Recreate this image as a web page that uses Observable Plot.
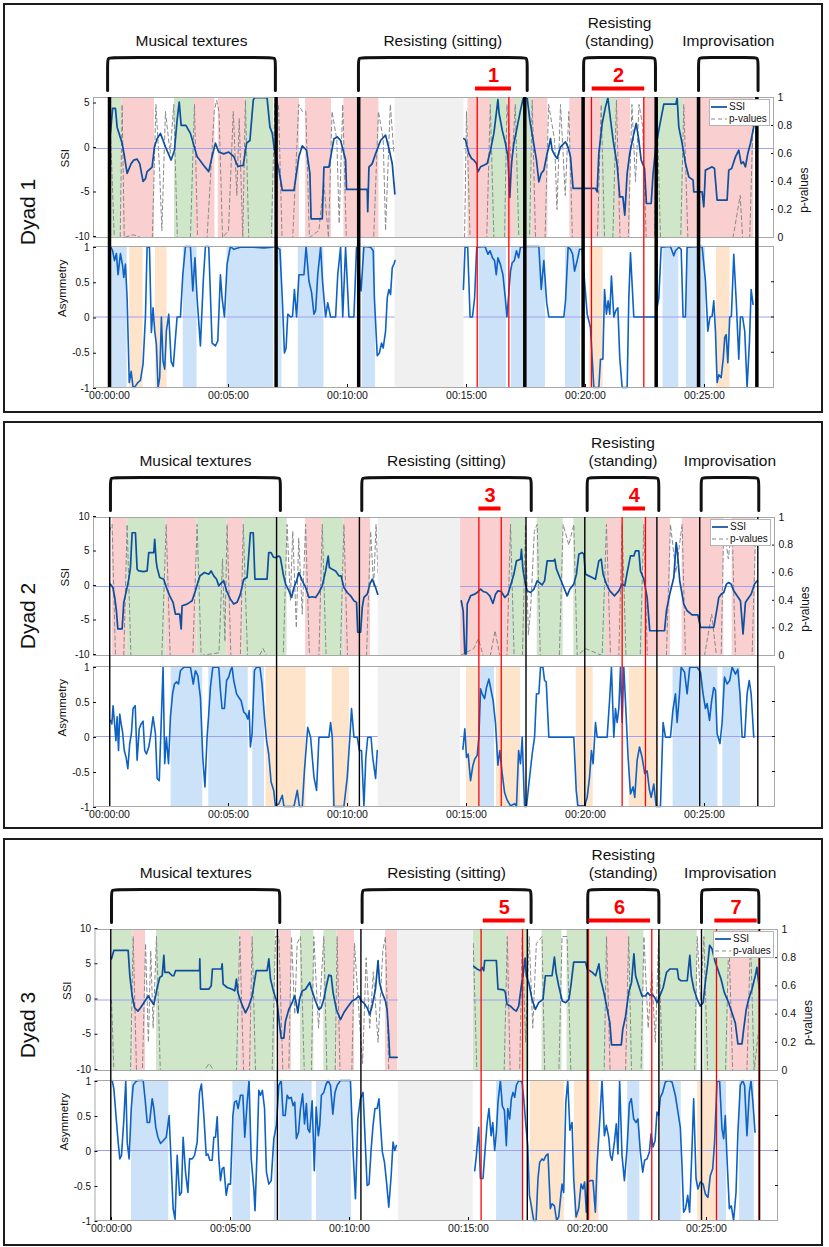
<!DOCTYPE html>
<html><head><meta charset="utf-8">
<script src="https://cdn.jsdelivr.net/npm/d3@7"></script>
<script src="https://cdn.jsdelivr.net/npm/@observablehq/plot@0.6"></script>
<style>
body{margin:0;background:#fff;font-family:"Liberation Sans",Arial,sans-serif;}
#page{position:relative;width:829px;height:1247px;overflow:hidden;background:#fff;}
.box{position:absolute;border:2.5px solid #1c1c1c;box-sizing:border-box;}
.dyad{position:absolute;font-size:21px;color:#111;transform:translate(-50%,-50%) rotate(-90deg);white-space:nowrap;}
.legend{position:absolute;width:61px;height:27px;box-sizing:border-box;border:1px solid #b4b4b4;background:#fff;font-size:10px;color:#111;line-height:12px;padding:1px 0 0 1px;white-space:nowrap;overflow:hidden;}
.legend div{display:flex;align-items:center;height:12px;white-space:nowrap;}
.legend svg{margin-right:2px;flex:none;}
</style></head><body><div id="page"></div><script>
// ---------------- DATA (time in minutes) ----------------
const dyadNames = ["Dyad 1", "Dyad 2", "Dyad 3"];
const sections1 = [["Musical textures",-0.08,6.97],["Resisting (sitting)",10.46,17.55],["Resisting\n(standing)",19.92,22.94],["Improvisation",24.75,27.25]];
const sections2 = [["Musical textures",0.04,7.18],["Resisting (sitting)",10.6,17.72],["Resisting\n(standing)",20.07,23.08],["Improvisation",24.86,27.28]];
const sections3 = [["Musical textures",0.0,7.07],["Resisting (sitting)",10.53,17.63],["Resisting\n(standing)",20.01,23.0],["Improvisation",24.79,27.2]];
const bounds1 = [0,7.0,10.47,17.45,19.9,22.97,24.75,27.2];
const bounds2 = [0.01,7.02,10.5,17.5,19.97,23.0,24.8,27.24];
const bounds3 = [-0.03,6.97,10.48,17.47,19.99,23.0,24.79,27.23];
const red1 = [15.45,16.78,20.25,22.45];
const red2 = [15.52,16.46,21.54,22.52];
const red3 = [15.53,17.27,20.04,22.7,25.42,27.2];
const segs1 = [["1",15.38,16.89],["2",20.28,22.49]];
const segs2 = [["3",15.52,16.45],["4",21.58,22.52]];
const segs3 = [["5",15.62,17.38],["6",20.05,22.65],["7",25.35,27.13]];
const missing1 = [12.0,14.9];
const missing2 = [11.29,14.75];
const missing3 = [12.05,15.2];
const timeTicks = [0,5,10,15,20,25];

const ssiBands1 = [[0.04,0.53,"g"],[0.53,1.89,"r"],[2.73,3.57,"g"],[3.57,4.43,"r"],[4.57,5.71,"r"],[5.71,6.90,"g"],[7.09,7.98,"r"],[8.24,9.33,"r"],[9.85,11.32,"r"],[15.06,16.01,"r"],[16.01,16.71,"g"],[16.71,17.06,"r"],[17.06,17.76,"g"],[17.76,18.42,"r"],[19.34,20.66,"r"],[20.66,21.30,"g"],[21.30,21.89,"r"],[22.45,23.01,"r"],[23.01,24.13,"g"],[24.13,27.07,"r"]];
const ssiBands2 = [[0.11,0.74,"r"],[0.74,2.38,"g"],[2.38,3.68,"r"],[3.68,4.94,"g"],[4.94,5.62,"r"],[5.62,7.46,"g"],[8.24,8.94,"r"],[8.94,9.85,"g"],[9.85,10.97,"r"],[14.75,16.85,"r"],[16.85,17.48,"g"],[17.97,19.06,"g"],[19.51,20.88,"g"],[20.88,21.54,"r"],[21.54,22.45,"g"],[22.45,23.57,"r"],[24.06,25.81,"r"],[26.16,27.15,"r"]];
const ssiBands3 = [[0.03,0.91,"g"],[0.91,1.43,"r"],[1.89,5.39,"g"],[5.39,5.91,"r"],[5.91,6.89,"g"],[7.03,7.56,"r"],[7.94,8.5,"g"],[8.92,9.48,"g"],[9.48,10.21,"r"],[11.51,12.03,"r"],[15.2,16.63,"g"],[16.63,17.26,"r"],[17.26,17.55,"g"],[18.09,18.93,"g"],[19.14,20.8,"g"],[20.8,21.73,"r"],[21.73,22.37,"g"],[22.99,24.61,"g"],[24.89,25.94,"g"],[25.94,26.85,"r"],[26.85,27.2,"g"]];
const asymBands1 = [[0.04,0.74,"b"],[0.85,1.41,"o"],[1.93,2.42,"o"],[3.10,3.68,"b"],[4.94,6.90,"b"],[7.09,7.25,"b"],[7.93,9.01,"b"],[10.62,11.18,"b"],[15.52,16.68,"b"],[16.89,17.41,"b"],[17.48,18.32,"b"],[19.16,19.79,"b"],[20.18,20.74,"o"],[23.26,23.92,"b"],[24.24,25.04,"b"],[25.5,26.07,"o"]];
const asymBands2 = [[2.59,3.92,"b"],[4.17,5.83,"b"],[6.02,6.51,"b"],[6.58,8.26,"o"],[9.36,10.08,"o"],[15.0,15.52,"o"],[15.56,16.18,"b"],[16.26,17.27,"o"],[19.61,20.32,"o"],[21.84,23.08,"o"],[23.68,24.83,"b"],[24.86,25.56,"b"],[25.77,26.51,"b"]];
const asymBands3 = [[0.84,2.41,"b"],[5.1,5.84,"b"],[6.85,6.93,"b"],[7.07,8.43,"b"],[8.61,10.08,"b"],[16.18,17.3,"b"],[17.6,19.03,"o"],[19.45,20.48,"o"],[21.69,22.2,"b"],[23.07,23.94,"b"],[24.63,25.42,"o"],[25.42,25.84,"b"],[26.39,27.01,"b"]];

const ssi1 = [[0.04,1.7],[0.13,4.5],[0.25,4.5],[0.32,2.4],[0.53,0.6],[0.63,-0.9],[0.74,-2.8],[0.91,-1.7],[1.02,-1.3],[1.16,-1.2],[1.27,-1.7],[1.41,-3.7],[1.51,-3.4],[1.58,-2.6],[1.79,-2.1],[1.89,0.2],[2.0,1.1],[2.14,1.7],[2.35,0.2],[2.59,-1.3],[2.73,-0.2],[2.84,3.2],[2.93,5.2],[3.01,2.6],[3.21,2.6],[3.40,1.7],[3.54,0.4],[3.68,-0.9],[3.96,-1.9],[4.17,-2.6],[4.31,-0.9],[4.45,0.6],[4.59,-0.4],[4.80,-0.6],[5.01,-0.4],[5.22,-0.9],[5.39,-2.0],[5.62,-1.9],[5.76,0.6],[5.90,0.9],[6.04,5.4],[6.09,5.7],[6.62,5.7],[6.74,2.4],[6.84,1.7],[6.93,-0.2],[7.12,-2.4],[7.26,-4.7],[7.75,-4.7],[7.96,-0.9],[8.10,0.3],[8.28,-0.2],[8.42,-2.8],[8.47,-7.9],[8.94,-7.9],[9.01,-2.1],[9.22,-2.1],[9.43,1.1],[9.57,1.3],[9.71,0.9],[9.92,-1.3],[9.96,-4.6],[10.83,-4.6],[10.85,-7.1],[10.90,-2.1],[11.04,-1.7],[11.18,-0.6],[11.39,0.9],[11.60,1.5],[11.74,0],[11.88,-1.7],[11.99,-5.1],[13.5,null],
[14.89,1.12],[14.96,0.94],[15.10,-0.56],[15.21,-1.12],[15.31,-1.31],[15.42,-1.69],[15.48,-2.62],[15.59,-2.06],[15.73,-1.87],[15.87,-1.69],[16.01,-0.19],[16.15,1.69],[16.26,4.12],[16.32,5.5],[16.37,3.93],[16.50,2.06],[16.64,0.56],[16.74,-0.94],[16.82,-5.5],[16.89,-1.69],[16.99,0.56],[17.13,2.43],[17.27,4.31],[17.38,5.62],[17.48,5.69],[17.55,5.69],[17.66,3.18],[17.80,0.94],[17.94,-1.31],[18.04,-3.75],[18.14,-2.81],[18.25,-2.43],[18.39,-0.56],[18.46,0.19],[18.53,1.12],[18.60,-0.19],[18.71,-0.75],[18.81,-1.12],[18.95,0.19],[19.16,0.75],[19.26,0.19],[19.37,-0.94],[19.48,-4.49],[20.42,-4.49],[20.49,-4.87],[20.56,-0.56],[20.70,2.81],[20.84,4.68],[20.94,5.69],[21.02,3.93],[21.16,0.94],[21.33,-1.87],[21.44,-5.43],[21.57,-5.43],[21.65,-7.49],[21.75,-2.81],[21.86,-0.56],[22.00,1.31],[22.13,2.81],[22.24,0.94],[22.34,-1.31],[22.48,-2.25],[22.56,-6.18],[22.76,-6.18],[22.84,-2.81],[22.94,-0.19],[23.08,2.06],[23.29,4.98],[23.80,4.98],[23.85,5.69],[23.92,2.43],[24.06,0.56],[24.20,-1.69],[24.34,-3.18],[24.52,-3.56],[24.55,-4.87],[24.90,-4.87],[24.97,-6.55],[25.04,-2.43],[25.18,-2.25],[25.32,-2.06],[25.42,-2.25],[25.53,-5.81],[25.95,-5.81],[26.02,-2.43],[26.14,-2.25],[26.30,-0.94],[26.44,-0.19],[26.54,-1.69],[26.63,-1.5],[26.72,-2.06],[26.82,-0.56],[26.93,0.56],[27.07,2.43],[27.16,3.75]];

const ssi2 = [[0.04,0.34],[0.14,-0.14],[0.22,-1.59],[0.29,-3.5],[0.35,-6.15],[0.53,-6.15],[0.60,-2.3],[0.71,-0.63],[0.81,1.06],[0.88,2.74],[0.95,7.79],[1.09,7.79],[1.16,2.5],[1.23,2.26],[1.44,2.16],[1.58,2.26],[1.65,4.9],[1.86,4.9],[1.90,6.83],[1.96,3.7],[2.0,2.74],[2.11,1.3],[2.28,1.06],[2.39,-0.14],[2.53,-1.35],[2.67,-2.3],[2.77,-3.99],[2.95,-3.99],[3.01,-6.15],[3.05,-2.79],[3.26,-2.55],[3.47,-2.07],[3.61,-0.63],[3.71,0.58],[3.80,1.54],[3.89,1.78],[3.99,2.02],[4.17,1.78],[4.27,2.26],[4.38,1.54],[4.50,1.06],[4.59,0.1],[4.71,0.58],[4.80,0.82],[4.92,-0.63],[5.08,-1.83],[5.22,-2.55],[5.36,-2.3],[5.50,-1.11],[5.64,1.06],[5.78,1.3],[5.92,7.79],[6.04,7.79],[6.11,1.06],[6.62,1.06],[6.69,4.9],[6.79,4.9],[6.88,4.28],[6.97,4.18],[7.12,4.42],[7.18,4.18],[7.30,1.78],[7.40,0.34],[7.54,-0.63],[7.65,-1.59],[7.75,-0.14],[7.86,0.82],[7.96,2.02],[8.10,0.82],[8.24,-0.14],[8.38,-1.59],[8.52,-1.49],[8.66,-1.59],[8.80,-0.87],[8.94,0.1],[9.08,2.26],[9.19,4.42],[9.24,2.74],[9.36,2.5],[9.50,2.26],[9.64,1.54],[9.73,1.54],[9.85,-0.14],[9.99,-0.87],[10.13,-1.35],[10.27,-2.07],[10.38,-2.3],[10.43,-6.63],[10.55,-6.63],[10.62,-3.03],[10.69,-1.59],[10.83,-1.11],[10.94,0.34],[11.04,1.06],[11.18,-0.14],[11.27,-1.11],[13,null],
[14.78,-2.07],[14.86,-3.52],[14.93,-9.78],[14.99,-9.78],[15.03,-2.55],[15.17,-1.35],[15.34,-1.11],[15.45,-0.87],[15.59,-0.39],[15.70,-0.72],[15.84,-0.87],[15.98,-1.35],[16.11,-2.46],[16.22,-1.11],[16.32,-0.63],[16.46,-0.72],[16.61,-1.59],[16.74,-1.11],[16.85,0.1],[16.99,1.78],[17.10,3.71],[17.27,3.95],[17.31,5.4],[17.37,2.51],[17.45,0.82],[17.55,-0.63],[17.69,-0.87],[17.83,-0.39],[17.97,0.82],[18.18,0.24],[18.28,0.82],[18.39,3.71],[18.67,3.71],[18.71,3.95],[18.78,2.51],[18.92,1.3],[19.09,-0.14],[19.23,-1.35],[19.34,-0.39],[19.51,0.34],[19.62,1.78],[19.72,4.67],[19.86,4.92],[19.93,4.67],[20.00,1.78],[20.14,1.54],[20.28,1.3],[20.42,1.06],[20.56,3.71],[20.66,3.95],[20.74,1.78],[20.88,0.34],[21.02,-0.63],[21.22,-1.35],[21.40,-0.63],[21.54,0.34],[21.65,0.1],[21.75,2.02],[21.89,4.43],[22.03,4.43],[22.10,5.16],[22.24,5.16],[22.31,2.27],[22.45,1.06],[22.59,-1.59],[22.70,-6.41],[23.32,-6.41],[23.40,-3.52],[23.54,-1.11],[23.71,1.3],[23.81,6.37],[23.85,5.4],[23.96,0.82],[24.13,-2.55],[24.27,-3.52],[24.48,-4.1],[24.72,-4.1],[24.83,-5.93],[25.39,-5.93],[25.51,-3.52],[25.60,-1.59],[25.70,-1.11],[25.81,-0.87],[25.92,0.34],[26.02,0.58],[26.12,0.34],[26.23,-0.63],[26.37,-1.35],[26.51,-2.07],[26.62,-6.89],[26.72,-2.31],[26.86,-1.59],[26.96,-1.11],[27.10,0.34],[27.21,0.82]];

const ssi3 = [[0.0,5.84],[0.10,7.03],[0.70,7.03],[0.77,3.44],[0.87,0.57],[0.97,-1.1],[1.11,-1.58],[1.22,-1.1],[1.36,-0.38],[1.54,0.57],[1.67,-0.14],[1.78,-0.62],[1.92,1.77],[2.03,3.21],[2.13,3.44],[2.20,6.32],[2.24,3.92],[2.41,3.92],[2.55,3.44],[2.62,3.44],[2.69,4.16],[3.70,4.16],[3.71,5.84],[3.74,1.53],[4.09,1.53],[4.19,2.01],[4.24,4.4],[4.62,4.4],[4.65,5.12],[4.69,2.25],[4.86,1.77],[5.07,1.53],[5.18,1.29],[5.25,2.97],[5.31,1.05],[5.45,-0.38],[5.63,-1.82],[5.77,-0.86],[5.91,0.57],[6.08,4.16],[6.54,4.16],[6.61,5.84],[6.68,2.97],[6.82,1.05],[6.96,-0.38],[7.07,-3.73],[7.13,-5.41],[7.24,-5.41],[7.31,-3.01],[7.45,-1.34],[7.59,-0.38],[7.69,0.57],[7.76,-0.38],[7.83,-1.82],[7.90,0.1],[8.01,1.29],[8.15,1.53],[8.33,2.49],[8.43,1.29],[8.57,-0.14],[8.71,-1.34],[8.81,-1.1],[8.92,0.1],[9.03,2.01],[9.13,3.54],[9.23,3.44],[9.31,1.05],[9.45,-1.34],[9.62,-2.78],[9.76,-1.82],[9.90,-1.1],[10.11,-0.14],[10.25,0.1],[10.39,0.57],[10.49,-0.14],[10.60,-0.38],[10.74,-1.1],[10.85,-2.06],[10.95,-0.86],[11.09,1.53],[11.20,5.6],[11.26,2.49],[11.37,1.05],[11.51,-0.14],[11.58,-1.34],[11.65,-5.17],[11.69,-8.13],[12.00,-8.13],[13.5,null],
[15.22,4.78],[15.36,4.4],[15.50,4.16],[15.57,4.64],[15.64,4.16],[15.68,5.6],[16.17,5.6],[16.24,1.53],[16.48,1.44],[16.55,1.05],[16.62,-0.62],[16.76,-0.86],[16.90,-1.34],[17.01,-1.58],[17.11,-0.86],[17.22,2.01],[17.29,3.44],[17.38,5.93],[17.43,3.44],[17.53,2.49],[17.67,0.1],[17.81,-1.34],[17.95,-0.38],[18.13,0.1],[18.23,3.44],[18.51,3.44],[18.61,6.08],[18.68,3.92],[18.79,2.01],[18.94,-0.14],[19.08,-0.38],[19.22,0.1],[19.31,2.25],[19.42,5.36],[19.92,5.36],[19.99,4.4],[20.20,3.92],[20.34,3.44],[20.48,5.12],[20.55,2.97],[20.69,1.05],[20.83,-1.34],[20.94,-3.25],[21.01,-6.36],[21.42,-6.36],[21.48,-4.21],[21.60,-2.3],[21.73,1.05],[21.85,2.49],[21.95,6.56],[22.02,3.44],[22.15,2.01],[22.29,0.57],[22.43,0.57],[22.53,1.05],[22.62,0.67],[22.71,0.81],[22.83,0.33],[22.92,-0.38],[23.04,0.57],[23.18,1.77],[23.32,3.92],[23.46,4.4],[23.77,4.4],[23.83,2.97],[23.93,2.73],[24.19,2.73],[24.30,6.32],[24.36,3.44],[24.47,1.53],[24.61,0.1],[24.74,-0.86],[24.86,-0.38],[24.95,2.49],[25.06,5.36],[25.13,7.75],[25.23,7.27],[25.37,5.36],[25.47,4.4],[25.61,2.97],[25.75,1.05],[25.93,-0.38],[26.07,-1.82],[26.21,-3.25],[26.32,-6.22],[26.49,-6.22],[26.56,-4.21],[26.67,-1.34],[26.77,0.1],[26.91,1.53],[27.05,3.44],[27.12,4.64],[27.22,1.53]];

const pval1 = [[0.0,0.95],[0.2,0.0],[0.45,0.0],[0.53,0.95],[0.62,0.0],[1.0,0.02],[1.3,0.0],[1.8,0.0],[1.95,0.95],[2.1,0.5],[2.2,0.05],[2.35,0.9],[2.55,0.6],[2.7,0.95],[2.85,0.0],[3.4,0.0],[3.57,0.95],[3.7,0.0],[4.1,0.0],[4.4,0.9],[4.5,0.98],[4.6,0.9],[4.75,0.0],[5.0,0.05],[5.2,0.9],[5.35,0.3],[5.45,0.85],[5.6,0.0],[5.71,0.98],[5.85,0.0],[6.8,0.0],[6.95,0.98],[7.1,0.95],[7.25,0.0],[7.7,0.0],[7.95,0.95],[8.1,0.9],[8.25,0.9],[8.4,0.0],[8.8,0.05],[9.0,0.4],[9.2,0.0],[9.35,0.9],[9.55,0.7],[9.65,0.1],[9.8,0.95],[9.95,0.0],[11.1,0.0],[11.3,0.9],[11.5,0.7],[11.6,0.05],[11.8,0.95],[11.95,0.6],[13,null],
[14.92,0.0],[15.0,0.9],[15.15,0.0],[15.85,0.0],[16.0,0.95],[16.15,0.0],[16.6,0.0],[16.7,0.95],[16.9,0.5],[17.05,0.95],[17.2,0.0],[17.65,0.0],[17.76,0.98],[17.9,0.0],[18.3,0.0],[18.45,0.95],[18.7,0.7],[18.8,0.2],[18.95,0.95],[19.15,0.3],[19.3,0.9],[19.45,0.0],[20.5,0.0],[20.66,0.95],[20.8,0.0],[21.15,0.0],[21.3,0.98],[21.45,0.0],[21.8,0.0],[21.95,0.95],[22.1,0.4],[22.25,0.95],[22.4,0.8],[22.55,0.0],[22.9,0.0],[23.0,0.95],[23.15,0.0],[24.0,0.0],[24.13,0.95],[24.3,0.0],[26.2,0.0],[26.5,0.3],[26.6,0.0],[26.9,0.0],[27.05,0.9],[27.2,0.95]];
const pval2 = [[0.0,0.9],[0.11,0.95],[0.25,0.0],[0.6,0.0],[0.74,0.95],[0.9,0.0],[2.2,0.0],[2.38,0.95],[2.55,0.0],[3.5,0.0],[3.68,0.95],[3.85,0.0],[4.6,0.02],[4.75,0.7],[4.85,0.1],[4.94,0.95],[5.1,0.0],[5.5,0.0],[5.62,0.95],[5.8,0.0],[6.3,0.0],[6.45,0.05],[6.6,0.0],[7.3,0.0],[7.46,0.95],[7.6,0.4],[7.7,0.9],[7.85,0.2],[7.95,0.85],[8.1,0.3],[8.24,0.95],[8.4,0.0],[8.8,0.0],[8.94,0.95],[9.1,0.0],[9.7,0.0],[9.85,0.95],[10.0,0.0],[10.8,0.0],[10.97,0.9],[11.1,0.5],[11.2,0.95],[11.28,0.6],[13,null],
[14.75,0.0],[15.3,0.05],[15.5,0.12],[15.7,0.0],[16.0,0.0],[16.2,0.18],[16.4,0.0],[16.7,0.0],[16.85,0.95],[17.0,0.0],[17.35,0.0],[17.48,0.95],[17.6,0.15],[17.7,0.35],[17.85,0.9],[17.97,0.95],[18.1,0.0],[18.9,0.0],[19.06,0.95],[19.3,0.8],[19.51,0.95],[19.65,0.0],[20.0,0.05],[20.7,0.0],[20.88,0.95],[21.05,0.0],[21.4,0.0],[21.54,0.95],[21.7,0.0],[22.3,0.0],[22.45,0.95],[22.6,0.0],[23.4,0.0],[23.57,0.95],[23.8,0.6],[24.06,0.95],[24.2,0.0],[25.0,0.0],[25.3,0.3],[25.5,0.0],[25.7,0.0],[25.81,0.95],[26.0,0.7],[26.16,0.95],[26.3,0.0],[27.0,0.0],[27.15,0.9]];
const pval3 = [[0.0,0.5],[0.1,0.0],[0.8,0.0],[0.91,0.95],[1.05,0.0],[1.3,0.0],[1.43,0.9],[1.55,0.2],[1.65,0.85],[1.75,0.3],[1.89,0.95],[2.05,0.0],[3.9,0.0],[4.1,0.05],[4.3,0.0],[5.25,0.0],[5.39,0.95],[5.55,0.0],[5.8,0.0],[5.91,0.95],[6.05,0.0],[6.75,0.0],[6.89,0.95],[7.03,0.95],[7.2,0.0],[7.45,0.0],[7.56,0.95],[7.7,0.4],[7.8,0.9],[7.94,0.95],[8.1,0.0],[8.4,0.0],[8.5,0.95],[8.7,0.3],[8.92,0.95],[9.05,0.0],[9.4,0.0],[9.48,0.95],[9.6,0.0],[10.1,0.0],[10.21,0.9],[10.4,0.4],[10.55,0.05],[10.7,0.8],[10.85,0.3],[11.0,0.7],[11.2,0.2],[11.4,0.85],[11.51,0.95],[11.65,0.0],[12.0,0.0],[13,null],
[15.2,0.9],[15.35,0.0],[16.5,0.0],[16.63,0.95],[16.75,0.0],[17.15,0.0],[17.26,0.95],[17.4,0.2],[17.55,0.95],[17.7,0.3],[17.85,0.9],[18.09,0.95],[18.2,0.0],[18.8,0.0],[18.93,0.95],[19.14,0.95],[19.3,0.0],[20.7,0.0],[20.8,0.95],[20.95,0.0],[21.6,0.0],[21.73,0.95],[21.85,0.0],[22.25,0.0],[22.37,0.95],[22.55,0.3],[22.7,0.7],[22.85,0.2],[22.99,0.95],[23.15,0.0],[24.5,0.0],[24.61,0.95],[24.75,0.5],[24.89,0.95],[25.05,0.0],[25.8,0.0],[25.94,0.95],[26.1,0.0],[26.7,0.0],[26.85,0.95],[27.0,0.0],[27.2,0.3]];

const asym1 = [[0.04,1],[0.13,0.94],[0.21,0.8],[0.29,0.9],[0.36,0.6],[0.46,0.9],[0.55,0.73],[0.60,0.56],[0.67,0.75],[0.74,0.27],[0.83,-0.93],[0.91,-0.77],[0.99,-1],[1.09,-0.98],[1.19,-0.93],[1.30,-0.9],[1.41,-0.67],[1.51,0],[1.58,0.99],[1.68,0.99],[1.76,-0.22],[1.83,0.13],[1.90,-0.2],[1.97,-0.39],[2.04,-1],[2.11,-0.86],[2.18,0],[2.25,-0.63],[2.32,-0.74],[2.39,-0.2],[2.49,0.04],[2.59,-0.63],[2.68,-0.7],[2.75,-0.39],[2.84,0],[2.98,0],[3.08,0.6],[3.19,1],[3.40,1],[3.50,0.37],[3.59,0.84],[3.68,0.27],[3.82,-0.41],[3.94,0.51],[4.03,1],[4.17,1],[4.31,-0.37],[4.45,-0.41],[4.55,-0.34],[4.66,0.6],[4.73,0.27],[4.83,0],[4.94,0.75],[5.08,1],[5.22,0.96],[5.50,0.99],[6.06,0.99],[6.48,0.98],[6.83,0.99],[6.97,1],[7.16,0.96],[7.26,0.27],[7.35,-0.51],[7.42,-0.44],[7.49,0.04],[7.61,0],[7.69,0.01],[7.77,0.39],[7.86,0],[7.96,0.6],[8.17,0.6],[8.26,1],[8.38,0.51],[8.49,0.35],[8.59,0.04],[8.66,0.09],[8.75,0.6],[8.87,0.99],[8.95,0.51],[9.08,0],[9.17,0.2],[9.29,0],[9.50,0],[9.59,0.6],[9.71,0.99],[9.80,0],[9.92,0.99],[10.06,0],[10.27,0],[10.38,1],[10.57,0.37],[10.69,1],[10.97,0.99],[11.08,0.94],[11.13,0.27],[11.25,-0.55],[11.34,-0.51],[11.43,-0.37],[11.50,-0.44],[11.60,-0.2],[11.67,0.27],[11.74,0.39],[11.81,0.32],[11.88,0.7],[11.95,0.75],[12.0,0.8],[13,null],
[14.87,0.39],[14.94,0.99],[15.05,0.99],[15.15,0],[15.25,0],[15.34,0.27],[15.43,0.99],[15.78,1],[15.90,0.89],[15.99,0.94],[16.09,0.84],[16.18,0.8],[16.25,0.6],[16.32,0.84],[16.42,0.75],[16.53,0.6],[16.63,0.27],[16.70,0],[16.85,0.65],[16.92,0.77],[17.01,0.8],[17.10,0.94],[17.19,0.84],[17.27,0.99],[17.48,1],[18.04,1],[18.14,0.39],[18.25,0.8],[18.37,0.2],[18.46,0],[19.09,0],[19.16,0.23],[19.27,0.99],[19.37,0.96],[19.46,0.89],[19.54,0.65],[19.65,0.8],[19.75,0.96],[19.86,0.96],[19.96,0.51],[20.07,0.04],[20.21,-0.15],[20.28,-0.58],[20.35,-1],[20.56,-1],[20.63,-0.6],[20.73,-0.6],[20.80,0.39],[20.88,0.04],[20.95,0.23],[21.02,0.04],[21.09,0.58],[21.19,0],[21.27,0.09],[21.36,0.13],[21.44,-0.58],[21.54,-1],[21.75,-1],[21.82,0.27],[21.89,0.91],[22.03,0],[22.94,0],[23.08,0.27],[23.18,0.99],[23.57,1],[23.71,0.87],[23.78,0.94],[23.92,0.99],[24.02,0.96],[24.10,0],[24.20,0],[24.27,0.99],[24.90,1],[25.04,0.51],[25.14,-0.2],[25.23,0],[25.32,0.01],[25.39,0.23],[25.46,-0.2],[25.53,-0.93],[25.60,-0.82],[25.70,-0.86],[25.79,-0.58],[25.85,-0.29],[25.91,-0.25],[25.98,-0.65],[26.06,0],[26.13,0.01],[26.23,0.89],[26.34,0.18],[26.44,-0.6],[26.51,0],[26.60,0],[26.69,-0.2],[26.79,-1],[26.89,-0.34],[26.96,0.39],[27.04,0.18]];

const asym2 = [[0.04,0.23],[0.10,0.18],[0.15,0.44],[0.21,0.2],[0.27,-0.06],[0.32,0.28],[0.38,-0.2],[0.43,0.32],[0.49,0.18],[0.55,0.06],[0.62,-0.2],[0.70,-0.3],[0.77,-0.46],[0.85,-0.1],[0.92,0.04],[0.99,0.4],[1.08,0.44],[1.16,-0.34],[1.25,0.11],[1.33,0.18],[1.41,0.22],[1.48,-0.2],[1.55,-0.25],[1.65,-0.15],[1.72,-0.01],[1.83,0.28],[1.93,0.04],[2.00,-0.6],[2.09,-0.63],[2.17,0.18],[2.25,0.99],[2.32,-0.39],[2.39,-0.01],[2.48,-0.39],[2.56,0.28],[2.65,0.61],[2.73,0.75],[2.82,0.78],[2.90,0.75],[2.98,0.94],[3.12,0.99],[3.40,0.99],[3.52,0.75],[3.61,0.94],[3.71,0.87],[3.82,0.56],[3.92,-0.3],[4.01,-0.72],[4.10,-0.01],[4.17,0.32],[4.24,0.7],[4.34,0.99],[4.59,0.99],[4.66,0.66],[4.73,0.4],[4.83,0.4],[4.92,0.8],[5.01,0.85],[5.08,0.94],[5.15,0.99],[5.22,0.8],[5.34,0.61],[5.43,0.56],[5.53,0.51],[5.64,0.35],[5.73,0.32],[5.81,0.25],[5.87,0.37],[5.92,-0.15],[5.99,0.04],[6.09,0.94],[6.18,0.99],[6.32,0.99],[6.41,0.75],[6.51,0.28],[6.60,-0.06],[6.69,-0.25],[6.79,-0.65],[6.90,-0.77],[6.97,-0.99],[7.12,-0.96],[7.26,-0.84],[7.33,-1],[7.75,-1],[7.89,-0.77],[7.98,-1],[8.10,-1],[8.19,-0.49],[8.33,0.13],[8.45,-0.01],[8.59,-0.58],[8.70,-0.77],[8.80,-0.01],[9.22,-0.01],[9.29,0.2],[9.36,-0.01],[9.43,-1],[9.85,-1],[9.99,-0.58],[10.10,-0.01],[10.17,0.4],[10.27,-0.01],[10.41,-0.01],[10.50,-0.2],[10.59,-0.2],[10.69,-1],[10.77,-0.3],[10.85,-0.01],[10.99,-0.01],[11.06,-0.3],[11.18,-0.6],[11.25,-0.2],[13,null],
[14.85,-0.18],[14.93,0.11],[15.00,-0.3],[15.07,-0.25],[15.17,-0.63],[15.27,-0.41],[15.35,-0.32],[15.45,-0.27],[15.52,-0.01],[15.59,0.68],[15.66,0.61],[15.76,0.54],[15.84,0.7],[15.94,0.82],[16.01,0.7],[16.12,0.51],[16.22,0.18],[16.32,-0.41],[16.40,-0.2],[16.50,-0.53],[16.60,-0.8],[16.71,-0.91],[16.85,-0.99],[17.03,-0.96],[17.10,-1],[17.19,-0.2],[17.27,-0.39],[17.34,-0.01],[17.44,-1],[17.52,-1],[17.62,-0.68],[17.76,-0.25],[17.86,-0.01],[17.94,0.61],[18.04,0.61],[18.11,0.99],[18.21,0.99],[18.28,0.8],[18.35,0.78],[18.46,-0.01],[19.51,-0.01],[19.61,-0.77],[19.68,-0.99],[19.96,-0.99],[20.07,-0.87],[20.17,-0.58],[20.25,-0.2],[20.32,-0.39],[20.42,0.2],[20.49,-0.01],[20.91,-0.01],[21.01,0.51],[21.09,0.99],[21.19,-0.01],[21.26,0.4],[21.33,0.2],[21.40,0.4],[21.47,0.99],[21.54,0.2],[21.61,0.99],[21.71,0.28],[21.79,-0.3],[21.89,-0.82],[22.00,-0.72],[22.07,-0.87],[22.17,-0.34],[22.27,-0.15],[22.38,-0.3],[22.49,-0.53],[22.59,-0.49],[22.68,-0.75],[22.76,-0.87],[22.87,-0.68],[22.97,-1],[23.15,-1],[23.26,0.2],[23.36,-0.01],[23.57,-0.01],[23.67,0.37],[23.78,0.61],[23.85,0.2],[23.95,0.61],[24.02,0.99],[24.16,0.92],[24.27,0.61],[24.38,0.99],[24.69,0.99],[24.83,0.92],[24.94,0.61],[25.04,0.4],[25.11,0.47],[25.21,0.23],[25.30,0.51],[25.39,0.7],[25.46,0.66],[25.53,0.04],[25.65,-0.1],[25.74,0.2],[25.84,0.85],[25.95,0.75],[26.06,0.8],[26.16,0.99],[26.30,0.89],[26.40,0.96],[26.49,0.61],[26.58,-0.01],[26.69,-0.01],[26.79,0.61],[26.88,0.8],[26.96,0.61],[27.07,-0.01]];

const asym3 = [[0.03,1],[0.10,0.88],[0.20,0.45],[0.28,0.12],[0.35,-0.12],[0.42,-0.07],[0.52,0.45],[0.60,1],[0.66,0.12],[0.74,-0.12],[0.83,0.6],[0.91,0.93],[1.01,0.98],[1.11,1],[1.33,1],[1.41,0.74],[1.50,0.4],[1.60,0.4],[1.71,0.74],[1.78,0.6],[1.86,0.33],[1.95,0.19],[2.06,0.1],[2.17,0.14],[2.30,0.19],[2.42,0.5],[2.51,-0.21],[2.59,-0.83],[2.67,-0.98],[2.76,-0.07],[2.86,-0.64],[2.94,-0.6],[3.01,0.19],[3.11,-0.31],[3.21,-0.6],[3.28,-0.12],[3.39,-0.12],[3.49,-0.07],[3.60,0.12],[3.70,0.83],[3.78,0.95],[3.88,0.5],[3.98,-0.07],[4.05,-0.05],[4.13,-0.14],[4.23,-0.14],[4.30,0.19],[4.37,0.19],[4.44,0.48],[4.51,-0.12],[4.58,-0.43],[4.65,-0.26],[4.72,-0.24],[4.82,-0.64],[4.90,-0.48],[5.00,-0.48],[5.10,0.5],[5.17,0.69],[5.25,0.71],[5.32,0.6],[5.42,0.79],[5.52,0.79],[5.60,0.19],[5.70,0.69],[5.78,1],[5.87,-0.12],[5.98,-0.55],[6.03,-0.86],[6.12,0.02],[6.19,0.86],[6.26,0.79],[6.34,0.86],[6.43,0.6],[6.51,-0.31],[6.61,-0.48],[6.71,-0.43],[6.82,0.17],[6.93,0.36],[7.03,0.93],[7.13,1],[7.21,0.5],[7.30,0.5],[7.38,0.79],[7.46,0.74],[7.55,0.76],[7.63,0.64],[7.70,0.69],[7.77,0.17],[7.86,0.26],[7.94,0.6],[8.03,0.81],[8.11,0.38],[8.19,0.67],[8.25,0.31],[8.33,0.26],[8.43,0.71],[8.52,-0.29],[8.60,0.62],[8.69,0.21],[8.75,0.36],[8.82,0.79],[8.92,0.83],[9.02,0.95],[9.10,1],[9.20,0.93],[9.30,0.52],[9.39,0.83],[9.48,0.93],[9.62,1],[10.04,1],[10.15,-0.02],[10.25,-0.69],[10.35,0.45],[10.46,0.74],[10.57,0.83],[10.65,0.21],[10.74,-0.5],[10.82,-0.48],[10.91,0.02],[10.99,0.36],[11.07,0.6],[11.16,0.6],[11.24,0.74],[11.30,0.38],[11.38,-0.02],[11.47,-0.17],[11.55,-0.43],[11.65,-0.81],[11.75,-0.36],[11.83,0.12],[11.90,0],[11.97,0.07],[13.5,null],
[15.26,-0.29],[15.33,-0.07],[15.43,0.33],[15.50,-0.4],[15.61,-0.4],[15.71,0.07],[15.78,0.38],[15.86,0.6],[15.95,0.21],[16.02,0.4],[16.10,0],[16.17,0.26],[16.24,0.69],[16.34,1],[16.42,0.64],[16.51,0.57],[16.59,0.07],[16.65,0.6],[16.73,0.45],[16.80,0.74],[16.87,0.83],[16.94,0.76],[17.01,0.93],[17.11,1],[17.25,0.98],[17.32,0.74],[17.41,0.36],[17.49,0.07],[17.56,-0.64],[17.64,-0.79],[17.74,-1],[17.84,-1],[17.92,-0.4],[17.99,-0.17],[18.09,-0.12],[18.16,-0.14],[18.26,-0.07],[18.34,-0.05],[18.44,-0.83],[18.51,-0.76],[18.61,-0.79],[18.70,-1],[18.79,-0.95],[18.86,-0.71],[18.93,-0.48],[19.00,-0.6],[19.09,0.69],[19.17,1],[19.26,0.29],[19.35,0.4],[19.42,-0.4],[19.52,-0.95],[19.63,-0.83],[19.73,-0.48],[19.81,-0.55],[19.88,-0.45],[19.95,-0.88],[20.01,-0.45],[20.12,-0.43],[20.23,-0.43],[20.33,-0.88],[20.40,-0.21],[20.51,0.4],[20.61,1],[20.71,0.21],[20.79,0.36],[20.89,0.19],[20.96,-0.07],[21.03,-0.14],[21.13,0.12],[21.21,0.38],[21.28,-0.05],[21.35,1],[21.45,-0.07],[21.55,-0.43],[21.66,0.02],[21.76,0.67],[21.84,0.74],[21.94,0.45],[22.04,0.4],[22.12,0.45],[22.22,-0.02],[22.32,-0.31],[22.40,-0.14],[22.50,-0.12],[22.60,-0.02],[22.67,0.24],[22.75,0.05],[22.84,0.14],[22.92,0.55],[22.99,0.5],[23.06,0.76],[23.16,0.83],[23.27,0.98],[23.41,1],[23.55,0.98],[23.69,0.79],[23.80,0.55],[23.90,0.33],[23.97,-0.21],[24.04,-0.88],[24.12,-0.83],[24.21,-0.64],[24.29,-0.88],[24.39,0.02],[24.46,0.74],[24.56,-0.4],[24.64,-0.55],[24.74,-0.45],[24.86,-0.48],[24.95,-0.62],[25.06,-0.67],[25.16,-0.36],[25.26,-0.26],[25.34,0.12],[25.44,0.98],[25.55,1],[25.65,0.31],[25.72,0.17],[25.79,0.5],[25.86,-0.1],[25.96,-0.83],[26.04,-0.79],[26.14,-1],[26.24,-0.6],[26.32,0.26],[26.42,0.93],[26.52,1],[26.60,0.93],[26.70,0.21],[26.80,0.83],[26.87,1],[26.95,0.69],[27.04,0.26]];

// ---------------- LAYOUT & STYLE ----------------
const W = 829, PXMIN = 23.8;
const PINK = "#f9cfcf", GREEN = "#cfe6c9", BLUE = "#cce2f8", ORANGE = "#fde4ca", MISSING = "#f0f0f0";
const FONT = '"Liberation Sans", Arial, Helvetica, sans-serif';
const layout = [
  {boxTop:3, boxH:410, ssiTop:97, ssiBot:237, asymTop:246, asymBot:387, x0:109, xL:93, xR:773, ssiMax:5.73, ssiTicks:[-10,-5,0,5], bw:3.5, dyadY:212},
  {boxTop:421, boxH:408, ssiTop:517, ssiBot:655, asymTop:666, asymBot:806, x0:109, xL:93, xR:774, ssiMax:10, ssiTicks:[-10,-5,0,5,10], bw:1.4, dyadY:616},
  {boxTop:838, boxH:408, ssiTop:929, ssiBot:1070, asymTop:1080, asymBot:1220, x0:111, xL:94.5, xR:777, ssiMax:10, ssiTicks:[-10,-5,0,5,10], bw:1.4, dyadY:1025}
];
const dyads = [
  {sections:sections1, bounds:bounds1, red:red1, segs:segs1, missing:missing1, ssiBands:ssiBands1, asymBands:asymBands1, ssi:ssi1, pval:pval1, asym:asym1},
  {sections:sections2, bounds:bounds2, red:red2, segs:segs2, missing:missing2, ssiBands:ssiBands2, asymBands:asymBands2, ssi:ssi2, pval:pval2, asym:asym2},
  {sections:sections3, bounds:bounds3, red:red3, segs:segs3, missing:missing3, ssiBands:ssiBands3, asymBands:asymBands3, ssi:ssi3, pval:pval3, asym:asym3}
];

const page = document.getElementById("page");
function place(el, top) {
  el.style.position = "absolute"; el.style.left = "0px"; el.style.top = top + "px";
  page.appendChild(el);
}
const baseStyle = {background:"transparent", overflow:"visible", fontFamily:FONT, color:"#111"};
const colorScale = {domain:["r","g","b","o"], range:[PINK,GREEN,BLUE,ORANGE]};
const fmtTime = t => `00:${String(t).padStart(2,"0")}:00`;

dyads.forEach((d, i) => {
  const L = layout[i];
  const xDom = [(L.xL - L.x0) / PXMIN, (L.xR - L.x0) / PXMIN];
  const mL = L.xL, mR = W - L.xR, m = 8;

  const box = document.createElement("div");
  box.className = "box";
  Object.assign(box.style, {left:"3px", top:L.boxTop + "px", width:"820px", height:L.boxH + "px"});
  page.appendChild(box);
  const lab = document.createElement("div");
  lab.className = "dyad"; lab.textContent = dyadNames[i];
  Object.assign(lab.style, {left:"28px", top:L.dyadY + "px"});
  page.appendChild(lab);

  const H = L.ssiTop - L.boxTop;
  const r = 0.25;
  const bracketPts = d.sections.flatMap((s, k) => [
    [s[1],7],[s[1],34],[s[1],40],[s[1]+r,40],[s[2]-r,40],[s[2],40],[s[2],34],[s[2],7]
  ].map(([t,y]) => ({t, y, k})));
  const header = Plot.plot({
    width:W, height:H, marginLeft:mL, marginRight:mR, marginTop:0, marginBottom:0,
    x:{domain:xDom, axis:null}, y:{domain:[0,H], axis:null}, style:baseStyle,
    marks:[
      Plot.line(bracketPts, {x:"t", y:"y", z:"k", curve:"basis", stroke:"#111", strokeWidth:3}),
      Plot.text(d.sections, {x:s => (s[1]+s[2])/2, y:s => s[0].includes("\n") ? 66 : 57, text:s => s[0], fontSize:15.5, lineHeight:1.18, fill:"#111"}),
      Plot.ruleY(d.segs, {x1:s => s[1], x2:s => s[2], y:() => 9, stroke:"#ff0000", strokeWidth:4}),
      Plot.text(d.segs, {x:s => (s[1]+s[2])/2, y:() => 22, text:s => s[0], fill:"#ff0000", fontSize:20, fontWeight:"bold"})
    ]
  });
  place(header, L.boxTop);

  const hS = (L.ssiBot - L.ssiTop) + 2*m;
  const pLayer = Plot.plot({
    width:W, height:hS, marginLeft:mL, marginRight:mR, marginTop:m, marginBottom:m,
    x:{domain:xDom, axis:null}, y:{domain:[0,1]}, color:colorScale, style:baseStyle,
    marks:[
      Plot.rect(d.ssiBands, {x1:b => b[0], x2:b => b[1], fill:b => b[2]}),
      Plot.line(d.pval, {x:p => p[0], y:p => p[1], stroke:"#8a8a8a", strokeWidth:1, strokeDasharray:"4,3"}),
      Plot.axisY({anchor:"right", ticks:[0,0.2,0.4,0.6,0.8,1], tickFormat:v => String(+v.toFixed(1)), tickSize:-3, tickPadding:7, fontSize:10.5, label:null}),
      Plot.text(["p-values"], {frameAnchor:"right", dx:31, rotate:-90, fontSize:12, fill:"#111"})
    ]
  });
  place(pLayer, L.ssiTop - m);

  const sLayer = Plot.plot({
    width:W, height:hS, marginLeft:mL, marginRight:mR, marginTop:m, marginBottom:m,
    x:{domain:xDom, axis:null}, y:{domain:[-10, L.ssiMax]}, style:baseStyle,
    marks:[
      Plot.ruleY([0], {stroke:"#a0a0f0", strokeWidth:1}),
      Plot.rect([d.missing], {x1:g => g[0], x2:g => g[1], fill:MISSING}),
      Plot.line(d.ssi, {x:p => p[0], y:p => p[1], stroke:"#0b4f9e", strokeWidth:1.7}),
      Plot.frame({stroke:"#a8a8a8"}),
      Plot.axisY({anchor:"left", ticks:L.ssiTicks, tickFormat:String, tickSize:-3, tickPadding:7, fontSize:10, dy:-1, label:null}),
      Plot.text(["SSI"], {frameAnchor:"left", dx:-28, rotate:-90, fontSize:11.5, fill:"#111"})
    ]
  });
  place(sLayer, L.ssiTop - m);

  const mb = 24;
  const aLayer = Plot.plot({
    width:W, height:(L.asymBot - L.asymTop) + m + mb, marginLeft:mL, marginRight:mR, marginTop:m, marginBottom:mb,
    x:{domain:xDom}, y:{domain:[-1,1]}, color:colorScale, style:baseStyle,
    marks:[
      Plot.rect(d.asymBands, {x1:b => b[0], x2:b => b[1], fill:b => b[2]}),
      Plot.ruleY([0], {stroke:"#a0a0f0", strokeWidth:1}),
      Plot.rect([d.missing], {x1:g => g[0], x2:g => g[1], fill:MISSING}),
      Plot.line(d.asym, {x:p => p[0], y:p => p[1], stroke:"#0d62c4", strokeWidth:1.6}),
      Plot.frame({stroke:"#a8a8a8"}),
      Plot.axisY({anchor:"left", ticks:[-1,-0.5,0,0.5,1], tickFormat:String, tickSize:-3, tickPadding:7, fontSize:10, dy:1, label:null}),
      Plot.axisY({anchor:"right", ticks:[-0.5,0,0.5], tickFormat:() => "", tickSize:-3, label:null}),
      Plot.axisX({anchor:"bottom", ticks:timeTicks, tickFormat:fmtTime, tickSize:-3, tickPadding:7, fontSize:10.5, label:null}),
      Plot.text(["Asymmetry"], {frameAnchor:"left", dx:-31, rotate:-90, fontSize:11.5, fill:"#111"})
    ]
  });
  place(aLayer, L.asymTop - m);

  const vLayer = Plot.plot({
    width:W, height:L.asymBot - L.ssiTop, marginLeft:mL, marginRight:mR, marginTop:0, marginBottom:0,
    x:{domain:xDom, axis:null}, y:{domain:[0,1], axis:null}, style:baseStyle,
    marks:[
      Plot.ruleX(d.red, {stroke:"#ff0000", strokeWidth:1.3}),
      Plot.ruleX(d.bounds, {stroke:"#000", strokeWidth:L.bw})
    ]
  });
  place(vLayer, L.ssiTop);

  const leg = document.createElement("div");
  leg.className = "legend";
  Object.assign(leg.style, {left:(L.xR - 64) + "px", top:(L.ssiTop + 2) + "px"});
  leg.innerHTML = `<div><svg width="16" height="6"><line x1="0" y1="3" x2="16" y2="3" stroke="#0b4f9e" stroke-width="1.7"/></svg>SSI</div>` +
                  `<div><svg width="16" height="6"><line x1="0" y1="3" x2="16" y2="3" stroke="#8a8a8a" stroke-width="1" stroke-dasharray="4,3"/></svg>p-values</div>`;
  page.appendChild(leg);
});
</script></body></html>
